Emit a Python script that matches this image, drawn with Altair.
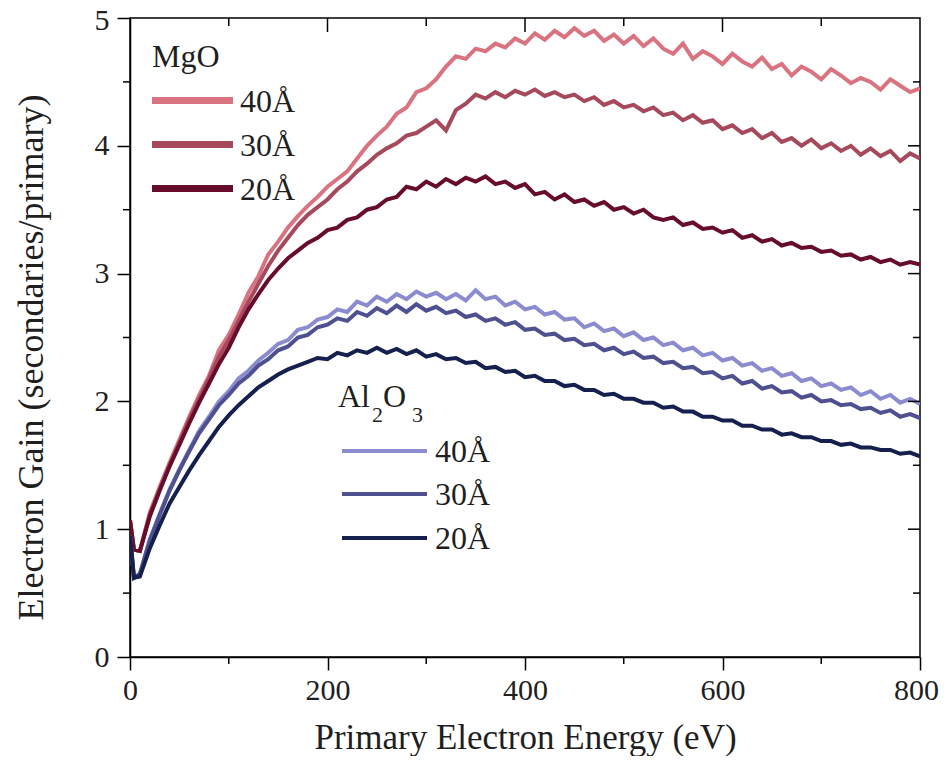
import altair as alt
import pandas as pd

# ---------------- data ----------------
energy = [0, 4, 10] + list(range(20, 801, 10))

mgo_40 = [1.07, 0.84, 0.83,
          1.13, 1.33, 1.52, 1.70, 1.88, 2.05, 2.20, 2.40, 2.52, 2.68,
          2.85, 2.98, 3.15, 3.25, 3.36, 3.45, 3.53, 3.60, 3.68, 3.74,
          3.80, 3.90, 4.00, 4.08, 4.15, 4.25, 4.30, 4.42, 4.45, 4.52,
          4.62, 4.70, 4.68, 4.76, 4.74, 4.80, 4.77, 4.84, 4.80, 4.88,
          4.83, 4.90, 4.85, 4.92, 4.86, 4.90, 4.82, 4.87, 4.80, 4.86,
          4.78, 4.84, 4.76, 4.72, 4.80, 4.68, 4.74, 4.70, 4.64, 4.72,
          4.66, 4.62, 4.69, 4.60, 4.64, 4.55, 4.62, 4.58, 4.52, 4.60,
          4.55, 4.49, 4.53, 4.50, 4.44, 4.52, 4.47, 4.42, 4.45]

mgo_30 = [1.07, 0.84, 0.83,
          1.11, 1.31, 1.50, 1.68, 1.86, 2.02, 2.18, 2.35, 2.48, 2.63,
          2.78, 2.92, 3.06, 3.18, 3.28, 3.38, 3.46, 3.52, 3.58, 3.66,
          3.72, 3.80, 3.86, 3.93, 3.98, 4.02, 4.08, 4.10, 4.15, 4.20,
          4.12, 4.28, 4.33, 4.40, 4.37, 4.42, 4.38, 4.43, 4.40, 4.44,
          4.39, 4.42, 4.38, 4.40, 4.35, 4.38, 4.32, 4.35, 4.30, 4.32,
          4.27, 4.30, 4.24, 4.26, 4.20, 4.24, 4.18, 4.20, 4.13, 4.16,
          4.10, 4.13, 4.06, 4.10, 4.03, 4.06, 4.00, 4.05, 3.98, 4.02,
          3.96, 4.00, 3.93, 3.98, 3.92, 3.96, 3.88, 3.94, 3.90]

mgo_20 = [1.07, 0.84, 0.83,
          1.10, 1.30, 1.49, 1.66, 1.83, 1.99, 2.14, 2.29, 2.42, 2.58,
          2.72, 2.84, 2.95, 3.04, 3.12, 3.18, 3.24, 3.28, 3.34, 3.36,
          3.42, 3.44, 3.50, 3.52, 3.58, 3.60, 3.68, 3.66, 3.72, 3.68,
          3.74, 3.70, 3.75, 3.72, 3.76, 3.70, 3.72, 3.67, 3.70, 3.62,
          3.64, 3.58, 3.62, 3.56, 3.58, 3.53, 3.56, 3.50, 3.52, 3.47,
          3.50, 3.44, 3.42, 3.44, 3.38, 3.40, 3.35, 3.36, 3.32, 3.34,
          3.28, 3.30, 3.25, 3.27, 3.22, 3.24, 3.20, 3.21, 3.17, 3.18,
          3.14, 3.15, 3.11, 3.13, 3.09, 3.11, 3.07, 3.09, 3.07]

al_40 = [0.95, 0.62, 0.65,
         0.92, 1.12, 1.31, 1.47, 1.62, 1.77, 1.88, 2.00, 2.08, 2.18,
         2.24, 2.32, 2.38, 2.45, 2.48, 2.56, 2.58, 2.64, 2.66, 2.72,
         2.70, 2.78, 2.75, 2.82, 2.78, 2.84, 2.80, 2.86, 2.82, 2.85,
         2.80, 2.84, 2.79, 2.87, 2.80, 2.82, 2.75, 2.78, 2.72, 2.74,
         2.68, 2.70, 2.64, 2.65, 2.58, 2.61, 2.55, 2.57, 2.51, 2.54,
         2.48, 2.50, 2.44, 2.46, 2.40, 2.42, 2.36, 2.38, 2.32, 2.34,
         2.28, 2.30, 2.24, 2.26, 2.20, 2.22, 2.16, 2.18, 2.12, 2.14,
         2.09, 2.11, 2.05, 2.08, 2.02, 2.05, 1.99, 2.02, 1.98]

al_30 = [0.95, 0.62, 0.65,
         0.91, 1.11, 1.30, 1.46, 1.61, 1.75, 1.86, 1.97, 2.05, 2.14,
         2.20, 2.28, 2.33, 2.40, 2.43, 2.50, 2.52, 2.58, 2.60, 2.65,
         2.63, 2.70, 2.67, 2.73, 2.69, 2.75, 2.70, 2.76, 2.71, 2.74,
         2.69, 2.71, 2.66, 2.68, 2.63, 2.65, 2.60, 2.62, 2.56, 2.57,
         2.52, 2.53, 2.48, 2.49, 2.44, 2.45, 2.40, 2.42, 2.37, 2.39,
         2.34, 2.35, 2.30, 2.31, 2.26, 2.27, 2.22, 2.23, 2.18, 2.20,
         2.14, 2.16, 2.10, 2.12, 2.07, 2.08, 2.03, 2.05, 2.00, 2.01,
         1.97, 1.98, 1.94, 1.95, 1.91, 1.93, 1.88, 1.90, 1.87]

al_20 = [0.95, 0.62, 0.63,
         0.85, 1.03, 1.20, 1.33, 1.46, 1.58, 1.69, 1.80, 1.89, 1.97,
         2.04, 2.11, 2.16, 2.21, 2.25, 2.28, 2.31, 2.34, 2.33, 2.38,
         2.36, 2.40, 2.38, 2.42, 2.38, 2.41, 2.37, 2.40, 2.35, 2.37,
         2.33, 2.34, 2.30, 2.31, 2.26, 2.27, 2.23, 2.24, 2.19, 2.20,
         2.16, 2.16, 2.12, 2.13, 2.09, 2.09, 2.05, 2.06, 2.02, 2.02,
         1.99, 1.99, 1.95, 1.96, 1.92, 1.92, 1.88, 1.88, 1.85, 1.85,
         1.81, 1.81, 1.78, 1.78, 1.74, 1.75, 1.72, 1.72, 1.69, 1.69,
         1.66, 1.67, 1.64, 1.64, 1.62, 1.62, 1.59, 1.60, 1.57]

series_names = ["MgO 40Å", "MgO 30Å", "MgO 20Å", "Al2O3 40Å", "Al2O3 30Å", "Al2O3 20Å"]
series_values = [mgo_40, mgo_30, mgo_20, al_40, al_30, al_20]
series_colors = ["#d9737f", "#a6495c", "#680c2c", "#8b8bcf", "#4f5090", "#15204e"]

x_major = [0, 200, 400, 600, 800]
x_minor = [100, 300, 500, 700]
x_top_major = [200, 400, 600]
y_major = [0, 1, 2, 3, 4, 5]
y_minor = [0.5, 1.5, 2.5, 3.5, 4.5]
y_right_major = [1, 2, 3, 4]

x_title = "Primary Electron Energy (eV)"
y_title = "Electron Gain (secondaries/primary)"

# ---------------- build tables ----------------
rows = []
for name, vals in zip(series_names, series_values):
    for e, v in zip(energy, vals):
        rows.append({"energy": e, "gain": v, "series": name})
df = pd.DataFrame(rows)

W, H = 790, 639
FONT = "Liberation Serif"
TXT = "#1f1f1f"

xscale = alt.Scale(domain=[0, 800], nice=False)
yscale = alt.Scale(domain=[0, 5], nice=False)

lines = alt.Chart(df).mark_line(strokeWidth=4, clip=True).encode(
    x=alt.X("energy:Q", scale=xscale,
            axis=alt.Axis(values=x_major, format="d", tickSize=13, tickWidth=1.5, domainWidth=1.5,
                          domainColor="black", tickColor="black", grid=False,
                          labelFont=FONT, labelFontSize=30, labelColor=TXT, labelPadding=5,
                          labelFlush=False,
                          labelOffset={"condition": {"test": "datum.value == 800", "value": -4},
                                       "value": 0},
                          title=x_title, titleFont=FONT, titleFontSize=35,
                          titleFontWeight="normal", titleColor=TXT,
                          titleBaseline="alphabetic", titleY=91)),
    y=alt.Y("gain:Q", scale=yscale,
            axis=alt.Axis(values=y_major, format="d", tickSize=13, tickWidth=1.5, domainWidth=1.5,
                          domainColor="black", tickColor="black", grid=False,
                          labelFont=FONT, labelFontSize=30, labelColor=TXT, labelPadding=8,
                          labelFlush=False,
                          labelOffset={"condition": {"test": "datum.value == 5", "value": 2},
                                       "value": 0},
                          title=y_title, titleFont=FONT, titleFontSize=36,
                          titleFontWeight="normal", titleColor=TXT,
                          titleBaseline="alphabetic", titleX=-88, titleY=339)),
    color=alt.Color("series:N", scale=alt.Scale(domain=series_names, range=series_colors),
                    legend=None),
)

def xtick(values, y0, y1):
    d = pd.DataFrame({"v": values})
    return alt.Chart(d).mark_rule(color="black", strokeWidth=1.5).encode(
        x=alt.X("v:Q", scale=xscale), y=alt.value(y0), y2=alt.value(y1))

def ytick(values, x0, x1):
    d = pd.DataFrame({"v": values})
    return alt.Chart(d).mark_rule(color="black", strokeWidth=1.5).encode(
        y=alt.Y("v:Q", scale=yscale), x=alt.value(x0), x2=alt.value(x1))

ticks = [
    xtick(x_minor, H, H + 7),          # bottom minor, outward
    ytick(y_minor, -7, 0),             # left minor, outward
    xtick(x_top_major, 0, 14),         # top major, inward
    xtick(x_minor, 0, 8),              # top minor, inward
    ytick(y_right_major, W - 12, W),   # right major, inward
    ytick(y_minor, W - 7, W),          # right minor, inward
]

anchor = pd.DataFrame({"a": [0]})

def leg_line(x0, x1, y, color, sw):
    return alt.Chart(anchor).mark_rule(color=color, strokeWidth=sw).encode(
        x=alt.value(x0), x2=alt.value(x1), y=alt.value(y))

def leg_text(txt, x, y, size=32):
    return alt.Chart(anchor).mark_text(text=txt, align="left", baseline="alphabetic",
                                       font=FONT, fontSize=size, color=TXT).encode(
        x=alt.value(x), y=alt.value(y))

legend_layers = [leg_text("MgO", 22, 49)]
thick_labels = ["40Å", "30Å", "20Å"]
mgo_rows = [82.5, 126.5, 170.5]
for lab, col, ly in zip(thick_labels, series_colors[:3], mgo_rows):
    legend_layers.append(leg_line(22, 103, ly, col, 7))
    legend_layers.append(leg_text(lab, 110, ly + 11.5))

legend_layers += [
    leg_text("Al", 208, 389),
    leg_text("2", 242, 404, 22),
    leg_text("O", 253, 389),
    leg_text("3", 282, 404, 22),
]
al_rows = [433, 476, 520]
for lab, col, ly in zip(thick_labels, series_colors[3:], al_rows):
    legend_layers.append(leg_line(212, 297, ly, col, 4))
    legend_layers.append(leg_text(lab, 305, ly + 11))

chart = alt.layer(lines, *ticks, *legend_layers).properties(
    width=W, height=H,
    autosize="none",
    padding={"left": 122, "top": 10, "right": 20, "bottom": 99},
    background="white",
).configure_view(stroke="black", strokeWidth=1.5)

chart.save("out.html", embed_options={"renderer": "svg", "actions": False})
